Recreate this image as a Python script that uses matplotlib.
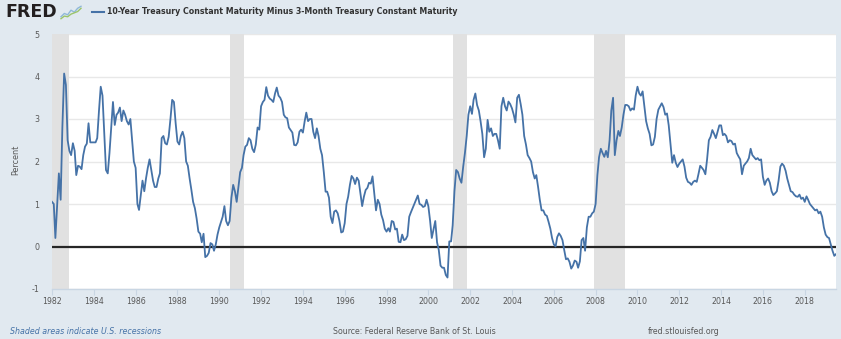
import numpy as np
import pandas as pd
import matplotlib
matplotlib.use("Agg")
import matplotlib.pyplot as plt
from matplotlib.lines import Line2D

# Monthly 10Y minus 3M treasury spread, percent (Jan 1982 - Jul 2019)
spread_pct = [
    1.05, 1.0, 0.2, 0.95, 1.72, 1.1, 2.8, 4.07, 3.8, 2.5, 2.25, 2.15,        # 1982
    2.43, 2.25, 1.68, 1.9, 1.88, 1.82, 2.15, 2.35, 2.42, 2.9, 2.45, 2.45,    # 1983
    2.45, 2.45, 2.55, 3.2, 3.76, 3.55, 2.7, 1.8, 1.72, 2.2, 2.8, 3.4,        # 1984
    2.86, 3.1, 3.15, 3.27, 2.95, 3.2, 3.1, 2.95, 2.87, 3.0, 2.5, 2.0,        # 1985
    1.85, 1.0, 0.86, 1.2, 1.55, 1.3, 1.6, 1.85, 2.05, 1.8, 1.55, 1.4,        # 1986
    1.4, 1.6, 1.72, 2.55, 2.6, 2.43, 2.4, 2.58, 3.0, 3.45, 3.4, 2.9,         # 1987
    2.47, 2.4, 2.6, 2.7, 2.55, 2.0, 1.9, 1.6, 1.33, 1.05, 0.9, 0.66,         # 1988
    0.35, 0.3, 0.1, 0.3, -0.25, -0.22, -0.15, 0.08, 0.05, -0.1, 0.05, 0.28,  # 1989
    0.45, 0.58, 0.7, 0.95, 0.6, 0.5, 0.6, 1.15, 1.45, 1.3, 1.05, 1.4,        # 1990
    1.75, 1.85, 2.15, 2.35, 2.39, 2.55, 2.5, 2.3, 2.22, 2.4, 2.8, 2.75,      # 1991
    3.3, 3.4, 3.45, 3.75, 3.55, 3.48, 3.45, 3.4, 3.6, 3.74, 3.55, 3.5,       # 1992
    3.4, 3.1, 3.04, 3.02, 2.8, 2.74, 2.68, 2.39, 2.38, 2.45, 2.7, 2.75,      # 1993
    2.68, 2.95, 3.15, 2.95, 3.0, 3.0, 2.7, 2.55, 2.78, 2.6, 2.3, 2.15,       # 1994
    1.75, 1.29, 1.29, 1.15, 0.7, 0.55, 0.82, 0.85, 0.78, 0.6, 0.33, 0.35,    # 1995
    0.55, 1.0, 1.17, 1.45, 1.66, 1.6, 1.47, 1.62, 1.55, 1.25, 0.95, 1.17,    # 1996
    1.33, 1.38, 1.5, 1.48, 1.65, 1.25, 0.85, 1.1, 1.0, 0.75, 0.62, 0.42,     # 1997
    0.35, 0.43, 0.35, 0.6, 0.58, 0.4, 0.42, 0.11, 0.1, 0.28, 0.15, 0.17,     # 1998
    0.25, 0.7, 0.8, 0.9, 1.0, 1.1, 1.2, 1.0, 0.98, 0.93, 0.95, 1.1,          # 1999
    0.95, 0.6, 0.2, 0.4, 0.6, 0.1, -0.08, -0.45, -0.5, -0.5, -0.67, -0.73,   # 2000
    0.12, 0.12, 0.5, 1.3, 1.8, 1.75, 1.6, 1.5, 1.88, 2.2, 2.6, 3.1,          # 2001
    3.3, 3.12, 3.45, 3.6, 3.33, 3.2, 2.95, 2.65, 2.1, 2.3, 2.98, 2.7,        # 2002
    2.78, 2.6, 2.65, 2.65, 2.5, 2.3, 3.3, 3.5, 3.3, 3.2, 3.41, 3.35,         # 2003
    3.25, 3.1, 2.92, 3.5, 3.57, 3.35, 3.1, 2.6, 2.4, 2.15, 2.08, 2.0,        # 2004
    1.75, 1.6, 1.68, 1.4, 1.1, 0.85, 0.85, 0.75, 0.72, 0.58, 0.42, 0.2,      # 2005
    0.05, 0.0, 0.22, 0.31, 0.25, 0.15, -0.08, -0.3, -0.28, -0.36, -0.52, -0.45,  # 2006
    -0.33, -0.36, -0.5, -0.35, 0.15, 0.2, -0.1, 0.45, 0.7, 0.7, 0.78, 0.82,  # 2007
    1.0, 1.68, 2.1, 2.3, 2.2, 2.11, 2.25, 2.1, 2.5, 3.2, 3.5, 2.15,          # 2008
    2.5, 2.72, 2.6, 2.8, 3.1, 3.33, 3.33, 3.3, 3.2, 3.25, 3.22, 3.55,        # 2009
    3.76, 3.6, 3.55, 3.65, 3.3, 2.95, 2.78, 2.65, 2.38, 2.4, 2.58, 3.0,      # 2010
    3.22, 3.3, 3.37, 3.28, 3.1, 3.13, 2.85, 2.4, 1.97, 2.15, 1.97, 1.87,     # 2011
    1.95, 2.0, 2.05, 1.88, 1.62, 1.52, 1.5, 1.45, 1.52, 1.55, 1.52, 1.7,     # 2012
    1.9, 1.85, 1.8, 1.7, 2.05, 2.5, 2.58, 2.74, 2.65, 2.55, 2.7, 2.85,       # 2013
    2.85, 2.62, 2.65, 2.6, 2.45, 2.5, 2.48, 2.4, 2.42, 2.2, 2.12, 2.05,      # 2014
    1.7, 1.9, 1.95, 2.0, 2.08, 2.3, 2.15, 2.1, 2.05, 2.08, 2.03, 2.05,       # 2015
    1.64, 1.45, 1.55, 1.6, 1.5, 1.3, 1.21, 1.25, 1.3, 1.55, 1.88, 1.95,      # 2016
    1.9, 1.78, 1.6, 1.45, 1.3, 1.28, 1.22, 1.18, 1.17, 1.22, 1.12, 1.15,     # 2017
    1.05, 1.18, 1.1, 1.0, 0.95, 0.9, 0.85, 0.87, 0.78, 0.82, 0.7, 0.45,      # 2018
    0.28, 0.22, 0.2, 0.05, -0.1, -0.22, -0.18,                               # 2019
]
dates = pd.date_range("1982-01-01", periods=len(spread_pct), freq="MS")

# NBER recessions (start, end)
recession_start = ["1981-07-01", "1990-07-01", "2001-03-01", "2007-12-01"]
recession_end = ["1982-11-01", "1991-03-01", "2001-11-01", "2009-06-01"]

y_ticks = [-1, 0, 1, 2, 3, 4, 5]
x_tick_years = list(range(1982, 2019, 2))

title = "10-Year Treasury Constant Maturity Minus 3-Month Treasury Constant Maturity"

W, H = 841, 339
bg = "#e1e9f0"
line_color = "#4572a7"
text_gray = "#595959"

fig = plt.figure(figsize=(W / 100, H / 100), dpi=100, facecolor=bg)

def fx(px):
    return px / W

def fy(py):
    return 1 - py / H

ax = fig.add_axes([fx(52), fy(289), fx(836 - 52), (289 - 34) / H])
ax.set_facecolor("white")

for s, e in zip(recession_start, recession_end):
    ax.axvspan(pd.Timestamp(s), pd.Timestamp(e), color="#e1e1e1", lw=0, zorder=1)

ax.plot(dates, spread_pct, color=line_color, lw=1.3, zorder=3)
ax.axhline(0, color="#262626", lw=1.6, zorder=2)

ax.set_xlim(dates[0], dates[-1])
ax.set_ylim(-1, 5)
ax.set_yticks(y_ticks)
ax.set_yticklabels([str(v) for v in y_ticks])
ax.set_xticks([pd.Timestamp(f"{y}-01-01") for y in x_tick_years])
ax.set_xticklabels([str(y) for y in x_tick_years])

ax.yaxis.grid(True, color="#e8e8e8", lw=1.0, zorder=0)
ax.set_axisbelow(True)
for side in ["top", "right", "left"]:
    ax.spines[side].set_visible(False)
ax.spines["bottom"].set_color("#c9d6e3")
ax.spines["bottom"].set_linewidth(1.0)

tick_font = dict(family="DejaVu Sans", stretch="condensed", size=6.3)
ax.tick_params(axis="y", length=0, pad=9, labelcolor=text_gray)
ax.tick_params(axis="x", length=4, width=0.8, color="#c9d6e3", pad=2,
               labelcolor=text_gray)
for lbl in ax.get_xticklabels() + ax.get_yticklabels():
    lbl.set_fontproperties(tick_font)

fig.text(fx(16), fy(160), "Percent", rotation=90, ha="center", va="center",
         color=text_gray, family="DejaVu Sans", stretch="condensed", size=6.5)

# header: logo, small icon, legend key and series title
fig.text(fx(5), fy(12), "FRED", ha="left", va="center", weight="bold",
         size=12.5, color="#231f20", family="DejaVu Sans")
icon = fig.add_axes([fx(60), fy(20), fx(22), 15 / H])
icon.set_facecolor(bg)
icon.plot([0, 1, 2, 3, 4, 5, 6], [1, 2, 1.6, 3, 2.4, 3.6, 4.2], color="#8fb8d8", lw=1)
icon.plot([0, 1, 2, 3, 4, 5, 6], [0.4, 1.2, 1.0, 1.8, 2.2, 2.6, 3.6], color="#9bc46a", lw=1)
icon.set_xlim(-0.3, 6.3)
icon.set_ylim(0, 4.6)
icon.axis("off")

fig.add_artist(Line2D([fx(92), fx(104)], [fy(12), fy(12)], color=line_color, lw=1.5))
fig.text(fx(107), fy(12), title, ha="left", va="center", weight="bold",
         color="#333333", family="DejaVu Sans", stretch="condensed", size=6.3)

# footer
foot = dict(family="DejaVu Sans", stretch="condensed", size=6.3, va="center")
fig.text(fx(10), fy(331), "Shaded areas indicate U.S. recessions", color=line_color,
         style="italic", ha="left", **foot)
fig.text(fx(333), fy(331), "Source: Federal Reserve Bank of St. Louis", color=text_gray,
         ha="left", **foot)
fig.text(fx(648), fy(331), "fred.stlouisfed.org", color=text_gray, ha="left", **foot)

fig.savefig("out.png", dpi=100, facecolor=bg)
